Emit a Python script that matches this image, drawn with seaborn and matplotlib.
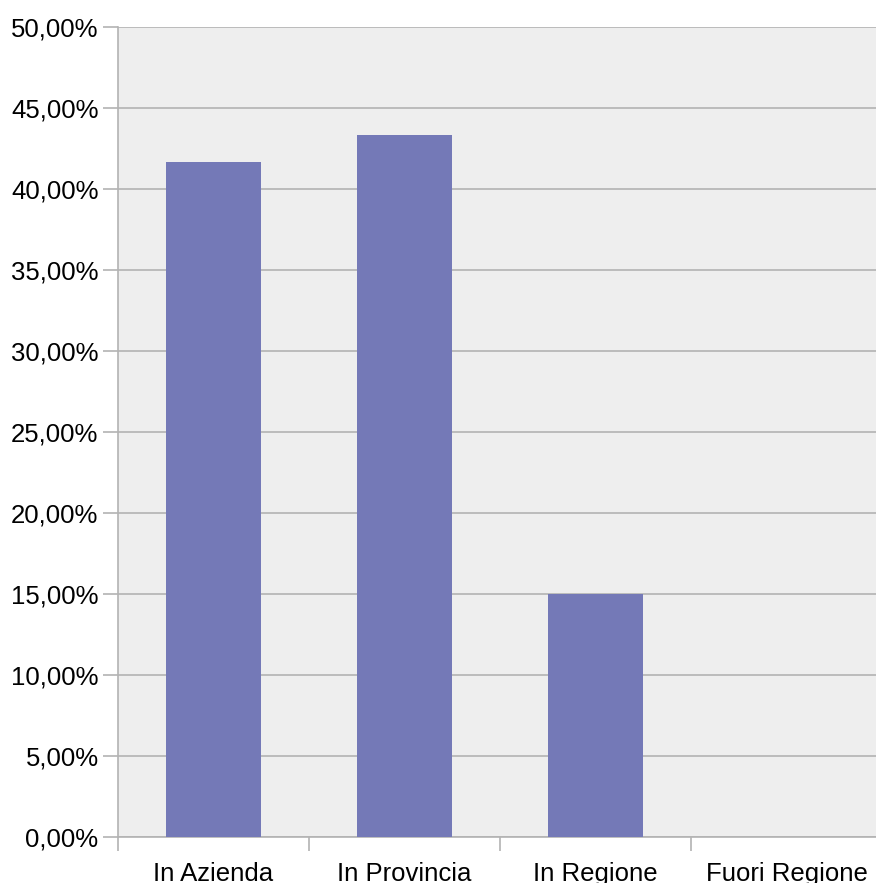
import matplotlib
matplotlib.use("Agg")
import matplotlib.pyplot as plt
import seaborn as sns
import pandas as pd
from matplotlib.ticker import FuncFormatter, FixedLocator

categories = ["In Azienda", "In Provincia", "In Regione", "Fuori Regione"]
values = [41.67, 43.33, 15.00, 0.00]
y_ticks = [0, 5, 10, 15, 20, 25, 30, 35, 40, 45, 50]

sns.set_style("white")
plt.rcParams["font.family"] = ["Liberation Sans", "DejaVu Sans"]

df = pd.DataFrame({"categoria": categories, "percentuale": values})

fig = plt.figure(figsize=(8.76, 8.83), dpi=100)
# plot area runs slightly past the right edge of the canvas
ax = fig.add_axes([118 / 876, 46 / 883, 764 / 876, 810 / 883])
ax.set_facecolor("#EEEEEE")

sns.barplot(data=df, x="categoria", y="percentuale", color="#7479B7",
            saturation=1, width=0.5, linewidth=0, edgecolor="none",
            ax=ax, zorder=3)

ax.set_xlim(-0.5, 3.5)
ax.set_ylim(0, 50)
ax.set_yticks(y_ticks)
ax.yaxis.set_major_formatter(FuncFormatter(lambda v, _: f"{v:.2f}".replace(".", ",") + "%"))
ax.yaxis.grid(True, color="#B3B3B3", linewidth=1.2, zorder=1)
ax.set_axisbelow(True)

# category separators below the axis
ax.xaxis.set_minor_locator(FixedLocator([-0.5, 0.5, 1.5, 2.5]))
ax.tick_params(axis="x", which="major", bottom=True, length=0, pad=18,
               labelsize=18.5, colors="black")
ax.tick_params(axis="x", which="minor", bottom=True, length=10, width=1.2,
               color="#B3B3B3", direction="out")
ax.tick_params(axis="y", left=True, length=11, width=1.2, color="#B3B3B3",
               direction="out", pad=3, labelsize=18.5, labelcolor="black")

for side in ["top", "right"]:
    ax.spines[side].set_visible(False)
for side in ["left", "bottom"]:
    ax.spines[side].set_color("#B3B3B3")
    ax.spines[side].set_linewidth(1.2)

ax.set_xlabel("")
ax.set_ylabel("")

fig.savefig("out.png", dpi=100)
